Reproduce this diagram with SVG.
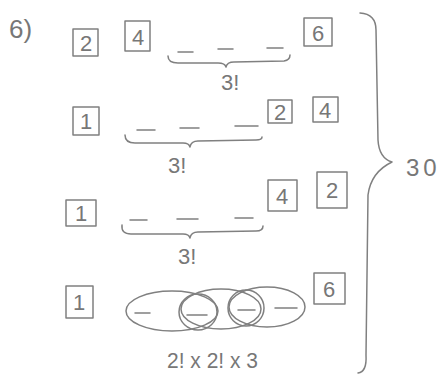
<svg xmlns="http://www.w3.org/2000/svg" width="440" height="378" viewBox="0 0 440 378">
<style>
.s{fill:none;stroke:#808080;stroke-width:1.5;stroke-linecap:round;stroke-linejoin:round}
.t{font-family:"Liberation Sans",Arial,sans-serif;fill:#777777}
.d{font-size:22px;text-anchor:middle}
.f{font-size:22px}
</style>
<rect width="440" height="378" fill="#ffffff"/>
<text class="t" x="9" y="38" font-size="26">6)</text>

<g id="row1">
  <g id="r1-box2"><rect class="s" x="73" y="29" width="25" height="27"/><text class="t d" x="86" y="51">2</text></g>
  <g id="r1-box4"><rect class="s" x="125" y="21" width="25" height="30"/><text class="t d" x="138" y="45">4</text></g>
  <g id="r1-dashes"><path class="s" d="M178 52 H193 M218 49 H233 M267 48 H283"/></g>
  <g id="r1-brace"><path class="s" d="M168 56 Q168 63 178 63 L218 63 Q225 63 226 67 Q227 62 234 62 L284 61 Q290 60 290 55"/></g>
  <text class="t f" x="221" y="90">3!</text>
  <g id="r1-box6"><rect class="s" x="304" y="18" width="28" height="28"/><text class="t d" x="318" y="41">6</text></g>
</g>

<g id="row2">
  <g id="r2-box1"><rect class="s" x="73" y="107" width="26" height="28"/><text class="t d" x="86" y="129">1</text></g>
  <g id="r2-dashes"><path class="s" d="M137 130 H155 M180 128 H199 M235 126 H258"/></g>
  <g id="r2-brace"><path class="s" d="M125 135 Q125 143 135 143 L183 143 Q189 143 190 147 Q191 141 198 141 L256 140 Q262 140 262 137"/></g>
  <text class="t f" x="168" y="173">3!</text>
  <g id="r2-box2"><rect class="s" x="268" y="100" width="24" height="23"/><text class="t d" x="280" y="120">2</text></g>
  <g id="r2-box4"><rect class="s" x="313" y="97" width="25" height="25"/><text class="t d" x="325" y="118">4</text></g>
</g>

<g id="row3">
  <g id="r3-box1"><rect class="s" x="66" y="200" width="30" height="26"/><text class="t d" x="81" y="221">1</text></g>
  <g id="r3-dashes"><path class="s" d="M130 220 H147 M177 219 H198 M235 218 H253"/></g>
  <g id="r3-brace"><path class="s" d="M122 225 Q121 234 131 234 L183 234 Q189 234 190 238 Q191 232 198 232 L256 231 Q263 231 263 226"/></g>
  <text class="t f" x="178" y="264">3!</text>
  <g id="r3-box4"><rect class="s" x="268" y="180" width="29" height="31"/><text class="t d" x="282" y="204">4</text></g>
  <g id="r3-box2"><rect class="s" x="317" y="172" width="30" height="36"/><text class="t d" x="332" y="198">2</text></g>
</g>

<g id="row4">
  <g id="r4-box1"><rect class="s" x="66" y="286" width="27" height="32"/><text class="t d" x="79" y="310">1</text></g>
  <g id="r4-ovals">
    <ellipse class="s" cx="172" cy="311" rx="46" ry="20"/>
    <ellipse class="s" cx="198" cy="312" rx="19" ry="18"/>
    <ellipse class="s" cx="221" cy="309" rx="40" ry="20"/>
    <ellipse class="s" cx="246" cy="308" rx="18" ry="18"/>
    <ellipse class="s" cx="267" cy="307" rx="38" ry="20"/>
  </g>
  <g id="r4-dashes"><path class="s" d="M135 313 H150 M187 315 H207 M238 310 H255 M275 308 H297"/></g>
  <text class="t f" x="167" y="368" textLength="91" lengthAdjust="spacingAndGlyphs">2! x 2! x 3</text>
  <g id="r4-box6"><rect class="s" x="314" y="273" width="31" height="31"/><text class="t d" x="329" y="297">6</text></g>
</g>

<g id="connectors">
  <path class="s" d="M360 13 Q376 14 376 30 L378 140 Q379 158 392 162 Q371 172 368 195 L366 355 Q367 372 358 373"/>
</g>
<text class="t" x="406" y="176" font-size="24" letter-spacing="4">30</text>
</svg>
